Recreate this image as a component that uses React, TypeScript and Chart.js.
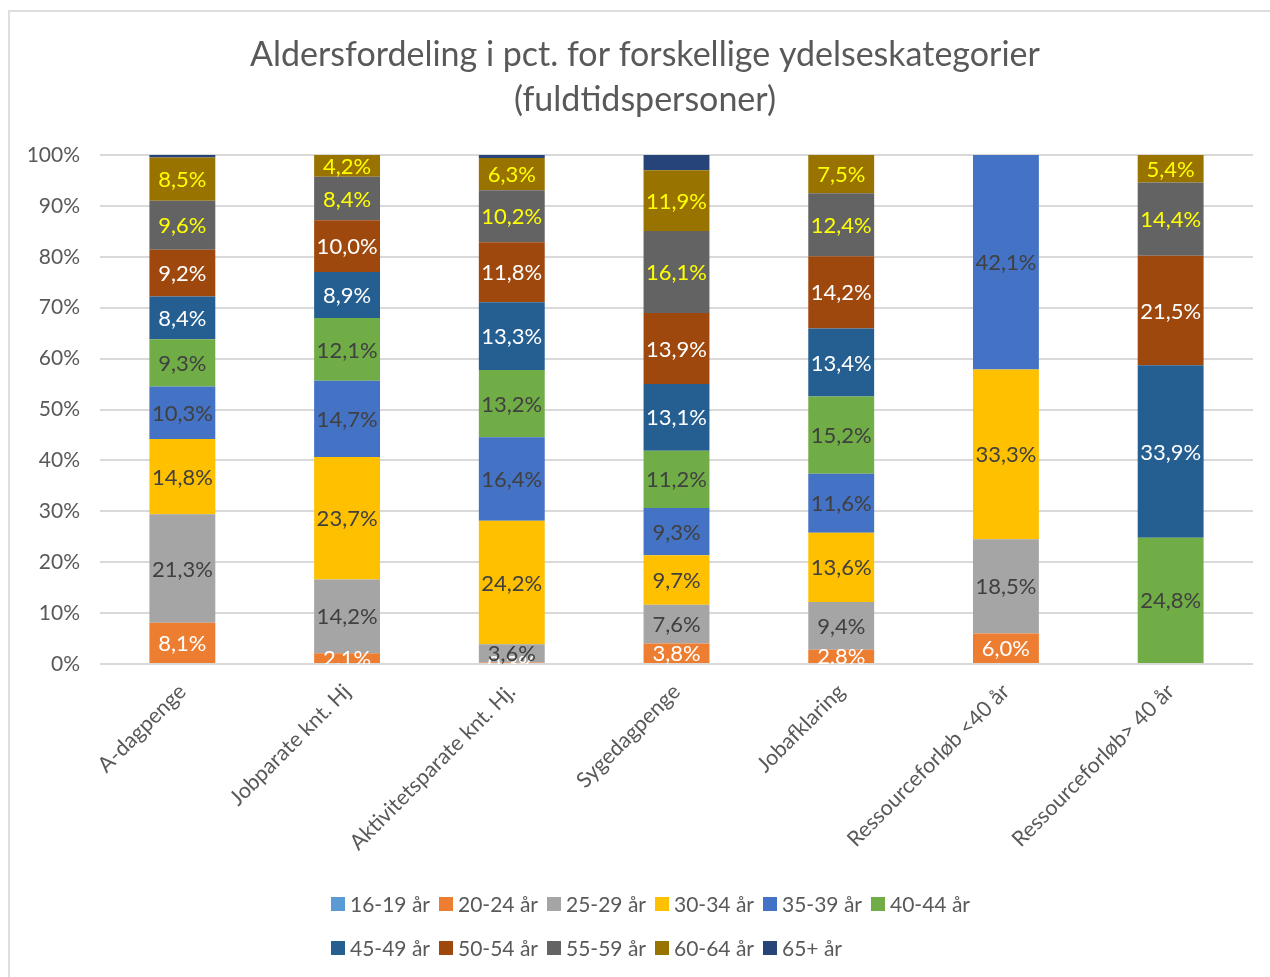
import React, { useEffect, useRef } from "react";
import { Chart, registerables } from "chart.js";

Chart.register(...registerables);

const categories = [
  "A-dagpenge",
  "Jobparate knt. Hj",
  "Aktivitetsparate knt. Hj.",
  "Sygedagpenge",
  "Jobafklaring",
  "Ressourceforløb <40 år",
  "Ressourceforløb> 40 år",
];

const ageGroups = [
  "16-19 år", "20-24 år", "25-29 år", "30-34 år", "35-39 år", "40-44 år",
  "45-49 år", "50-54 år", "55-59 år", "60-64 år", "65+ år",
];

const titleLines = ["Aldersfordeling i pct. for forskellige ydelseskategorier", "(fuldtidspersoner)"];

const age16_19 = [0, 0, 0, 0.2, 0, 0, 0];
const age20_24 = [8.1, 2.1, 0.3, 3.8, 2.8, 6.0, 0];
const age25_29 = [21.3, 14.2, 3.6, 7.6, 9.4, 18.5, 0];
const age30_34 = [14.8, 23.7, 24.2, 9.7, 13.6, 33.3, 0];
const age35_39 = [10.3, 14.7, 16.4, 9.3, 11.6, 42.1, 0];
const age40_44 = [9.3, 12.1, 13.2, 11.2, 15.2, 0, 24.8];
const age45_49 = [8.4, 8.9, 13.3, 13.1, 13.4, 0, 33.9];
const age50_54 = [9.2, 10.0, 11.8, 13.9, 14.2, 0, 21.5];
const age55_59 = [9.6, 8.4, 10.2, 16.1, 12.4, 0, 14.4];
const age60_64 = [8.5, 4.2, 6.3, 11.9, 7.5, 0, 5.4];
const age65plus = [0.5, 0, 0.6, 3.0, 0, 0, 0];

const yTicks = [0, 10, 20, 30, 40, 50, 60, 70, 80, 90, 100];

const series = [age16_19, age20_24, age25_29, age30_34, age35_39, age40_44, age45_49, age50_54, age55_59, age60_64, age65plus];

const colors = ["#5B9BD5", "#ED7D31", "#A5A5A5", "#FFC000", "#4472C4", "#70AD47", "#255E91", "#9E480E", "#636363", "#997300", "#264478"];
const labelColors = [null, "#FFFFFF", "#404040", "#404040", "#404040", "#404040", "#FFFFFF", "#FFFFFF", "#FFFF00", "#FFFF00", null];

const FONT = "Lato, 'Open Sans', sans-serif";

export default function App() {
  const ref = useRef<HTMLCanvasElement | null>(null);

  useEffect(() => {
    if (!ref.current) return;
    document.body.style.margin = "0";

    const totals = categories.map((_, ci) => series.reduce((s, arr) => s + arr[ci], 0));

    const datasets = series.map((arr, i) => ({
      label: ageGroups[i],
      data: arr.map((v, ci) => (totals[ci] ? (v / totals[ci]) * 100 : 0)),
      raw: arr,
      backgroundColor: colors[i],
      borderWidth: 0,
      barPercentage: 0.4,
      categoryPercentage: 1,
      stack: "s",
    }));

    const valueLabels = {
      id: "valueLabels",
      afterDatasetsDraw(chart: any) {
        const ctx = chart.ctx;
        const area = chart.chartArea;
        ctx.save();
        ctx.beginPath();
        ctx.rect(area.left, area.top, area.right - area.left, area.bottom - area.top);
        ctx.clip();
        ctx.font = `22px ${FONT}`;
        ctx.textAlign = "center";
        ctx.textBaseline = "middle";
        chart.data.datasets.forEach((ds: any, di: number) => {
          const col = labelColors[di];
          if (!col) return;
          const meta = chart.getDatasetMeta(di);
          meta.data.forEach((bar: any, ci: number) => {
            const v = ds.raw[ci];
            if (!v) return;
            const y = (bar.y + bar.base) / 2;
            ctx.fillStyle = col;
            ctx.fillText(v.toFixed(1).replace(".", ",") + "%", bar.x, y + 1);
          });
        });
        ctx.restore();
      },
    };

    const customTitle = {
      id: "customTitle",
      afterDraw(chart: any) {
        const ctx = chart.ctx;
        ctx.save();
        ctx.font = `34px ${FONT}`;
        ctx.fillStyle = "#595959";
        ctx.textAlign = "center";
        ctx.textBaseline = "middle";
        const cx = 645;
        const ys = [55, 100];
        titleLines.forEach((t, i) => ctx.fillText(t, cx, ys[i]));
        ctx.restore();
      },
    };

    const customLegend = {
      id: "customLegend",
      afterDraw(chart: any) {
        const ctx = chart.ctx;
        ctx.save();
        ctx.font = `21px ${FONT}`;
        ctx.textBaseline = "middle";
        ctx.textAlign = "left";
        const perRow = 6;
        const box = 14;
        const gap = 5;
        const colW = 108;
        const startX = 331;
        const rowY = [904, 948];
        chart.data.datasets.forEach((ds: any, i: number) => {
          const r = Math.floor(i / perRow);
          const c = i % perRow;
          const x = startX + c * colW;
          const y = rowY[r];
          ctx.fillStyle = ds.backgroundColor;
          ctx.fillRect(x, y - box / 2, box, box);
          ctx.fillStyle = "#595959";
          ctx.fillText(ds.label, x + box + gap, y + 1);
        });
        ctx.restore();
      },
    };

    const chart = new Chart(ref.current, {
      type: "bar",
      data: { labels: categories, datasets: datasets as any },
      options: {
        animation: false,
        responsive: false,
        maintainAspectRatio: false,
        layout: { padding: { top: 155, left: 10, right: 17, bottom: 107 } },
        plugins: {
          legend: { display: false },
          tooltip: { enabled: false },
          title: { display: false },
        },
        scales: {
          x: {
            stacked: true,
            grid: { display: false },
            border: { display: false },
            ticks: {
              color: "#595959",
              font: { family: FONT, size: 21.5 },
              minRotation: 45,
              maxRotation: 45,
              autoSkip: false,
              padding: 7,
            },
            afterFit: (s: any) => { s.height = 206; },
          },
          y: {
            stacked: true,
            min: 0,
            max: 100,
            afterBuildTicks: (s: any) => { s.ticks = yTicks.map((v) => ({ value: v })); },
            grid: { color: "#D9D9D9", lineWidth: 2, drawTicks: false },
            border: { display: false },
            ticks: {
              color: "#595959",
              font: { family: FONT, size: 21 },
              padding: 20,
              callback: (v: any) => v + "%",
            },
            afterFit: (s: any) => { s.width = 90; },
          },
        },
      },
      plugins: [valueLabels, customTitle, customLegend],
    });

    return () => chart.destroy();
  }, []);

  return (
    <div style={{ position: "relative", width: 1270, height: 977, background: "#fff", overflow: "hidden" }}>
      <canvas ref={ref} width={1270} height={977} style={{ position: "absolute", left: 0, top: 0, width: 1270, height: 977 }} />
      <div style={{ position: "absolute", left: 8, top: 10, width: 1400, height: 1000, borderTop: "2px solid #DEDEDE", borderLeft: "2px solid #DEDEDE", pointerEvents: "none" }} />
    </div>
  );
}
